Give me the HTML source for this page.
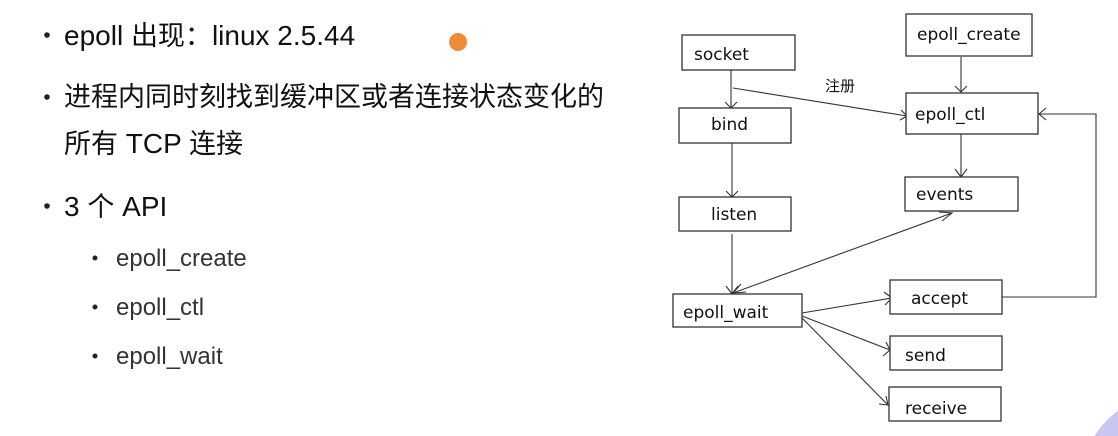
<!DOCTYPE html>
<html><head><meta charset="utf-8"><style>
html,body{margin:0;padding:0;background:#fff;width:1118px;height:436px;overflow:hidden}
svg{display:block}
.t{font-family:"Liberation Sans","Noto Sans CJK SC",sans-serif;fill:#111}
.d{font-family:"DejaVu Sans","Noto Sans CJK SC",sans-serif;font-size:17px;fill:#111}
rect.b{fill:#fff;stroke:#333;stroke-width:1.3}
line,polyline{stroke:#333;stroke-width:1.1;fill:none}
</style></head><body>
<svg width="1118" height="436" viewBox="0 0 1118 436" style="position:absolute;left:0;top:0">
<circle cx="1165" cy="478" r="82" fill="#c9c6f2"/>
<circle cx="458" cy="42" r="9" fill="#ee8a3a"/>
<g class="t" font-size="28">
<circle cx="47" cy="35" r="2.8" fill="#222"/>
<text x="64" y="45">epoll <tspan font-size="27">出现：</tspan>linux 2.5.44</text>
<circle cx="47" cy="97" r="2.8" fill="#222"/>
<text x="64" y="106" font-size="27">进程内同时刻找到缓冲区或者连接状态变化的</text>
<text x="64" y="153"><tspan font-size="27">所有</tspan> TCP <tspan font-size="27">连接</tspan></text>
<circle cx="47" cy="206" r="2.8" fill="#222"/>
<text x="64" y="216">3 <tspan font-size="27">个</tspan> API</text>
</g>
<g class="t" font-size="24" style="fill:#333">
<circle cx="95" cy="258" r="2.5" fill="#222"/>
<text x="116" y="266">epoll_create</text>
<circle cx="95" cy="307" r="2.5" fill="#222"/>
<text x="116" y="315">epoll_ctl</text>
<circle cx="95" cy="356" r="2.5" fill="#222"/>
<text x="116" y="364">epoll_wait</text>
</g>
<line x1="731" y1="70" x2="731" y2="108"/><polyline points="725,102 731,108 737,102"/>
<line x1="733" y1="88" x2="907" y2="116"/><polyline points="901,110 907,116 900,120"/>
<line x1="961" y1="57" x2="961" y2="92"/><polyline points="955,86 961,92 967,86"/>
<line x1="961" y1="134" x2="961" y2="177"/><polyline points="955,169 961,177 967,169"/>
<line x1="732" y1="143" x2="732" y2="197"/><polyline points="726,191 732,197 738,191"/>
<line x1="732" y1="234" x2="732" y2="294"/><polyline points="726,286 732,294 738,286"/>
<line x1="952" y1="213" x2="733" y2="293"/>
<polyline points="939,212 952,213 942,221"/><polyline points="741,284 733,293 746,292"/>
<line x1="802" y1="313" x2="892" y2="298"/><polyline points="884,292 892,298 885,305"/>
<line x1="802" y1="316" x2="890" y2="350"/><polyline points="886,342 890,350 883,356"/>
<line x1="802" y1="318" x2="888" y2="405"/><polyline points="886,396 888,405 879,404"/>
<polyline points="1002,297 1096,297 1096,114 1039,114"/><polyline points="1046,108 1039,114 1046,120"/>
<rect class="b" x="682" y="35" width="113" height="35"/><text class="d" x="694" y="60">socket</text>
<rect class="b" x="906" y="14" width="126" height="42"/><text class="d" x="917" y="40">epoll_create</text>
<rect class="b" x="906" y="93" width="132" height="41"/><text class="d" x="915" y="120">epoll_ctl</text>
<rect class="b" x="679" y="108" width="112" height="35"/><text class="d" x="711" y="130">bind</text>
<rect class="b" x="905" y="177" width="113" height="34"/><text class="d" x="916" y="200">events</text>
<rect class="b" x="679" y="197" width="112" height="34"/><text class="d" x="711" y="220">listen</text>
<rect class="b" x="673" y="294" width="129" height="33"/><text class="d" x="683" y="318">epoll_wait</text>
<rect class="b" x="890" y="280" width="112" height="34"/><text class="d" x="911" y="304">accept</text>
<rect class="b" x="890" y="336" width="112" height="34"/><text class="d" x="905" y="361">send</text>
<rect class="b" x="889" y="387" width="112" height="34"/><text class="d" x="905" y="414">receive</text>
<text class="t" x="825" y="91" font-size="15">注册</text>
</svg>
</body></html>
